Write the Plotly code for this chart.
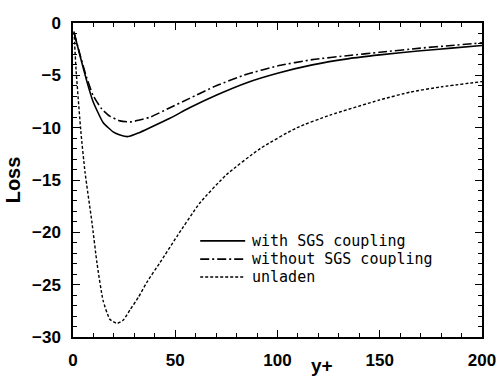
import plotly.graph_objects as go

# y+ positions and loss values
x_with = [0.5, 3.4, 6.8, 9.8, 14.7, 19.6, 23, 27, 32, 37.6, 47.4, 57, 70, 85, 100, 117, 135, 150, 170, 185, 200]
y_with = [-0.9, -3.1, -5.6, -7.5, -9.5, -10.4, -10.7, -10.85, -10.5, -10.0, -9.1, -8.1, -6.9, -5.7, -4.8, -4.0, -3.4, -3.05, -2.65, -2.4, -2.15]

x_without = [0.5, 3.4, 6.8, 9.8, 14, 18, 23, 27.9, 32, 37.6, 47.4, 57, 70, 85, 100, 117, 135, 150, 170, 185, 200]
y_without = [-0.9, -3.0, -5.3, -6.9, -8.2, -8.9, -9.35, -9.45, -9.3, -9.0, -8.1, -7.2, -6.0, -4.9, -4.1, -3.5, -3.1, -2.8, -2.4, -2.15, -1.9]

x_unladen = [0.5, 1.5, 3.9, 5.9, 9.3, 11.7, 14.7, 18, 21.5, 24.5, 27.9, 32, 36, 42.5, 50.8, 62, 75, 91.5, 109.5, 125.7, 150, 165, 180, 200]
y_unladen = [-0.8, -4.5, -10.5, -14.3, -19.1, -22.9, -26.5, -28.3, -28.7, -28.4, -27.4, -26.2, -24.8, -22.9, -20.4, -17.2, -14.5, -12.0, -10.0, -8.8, -7.35, -6.6, -6.1, -5.6]

names = ["with SGS coupling", "without SGS coupling", "unladen"]
x_ticks = [0, 50, 100, 150, 200]
y_ticks = [0, -5, -10, -15, -20, -25, -30]

BOLD = "Liberation Sans, Arial, sans-serif"
MONO = "DejaVu Sans Mono, Liberation Mono, monospace"

styles = [
    dict(color="black", width=1.6),
    dict(color="black", width=1.6, dash="9px,3px,2px,3px"),
    dict(color="black", width=1.4, dash="3px,2px"),
]

fig = go.Figure()
for xs, ys, nm, st in zip([x_with, x_without, x_unladen], [y_with, y_without, y_unladen], names, styles):
    fig.add_trace(go.Scatter(x=xs, y=ys, mode="lines", name=nm, showlegend=False,
                             line=dict(shape="spline", smoothing=0.5, **st)))

axis_common = dict(showgrid=False, zeroline=False, showline=True, linecolor="black", linewidth=1.5,
                   mirror="ticks", ticks="inside", tickcolor="black", tickwidth=1.2,
                   ticklabeloverflow="allow", automargin=False,
                   tickfont=dict(family=BOLD, size=17, color="black", weight="bold"))

fig.update_xaxes(range=[0, 200], tickvals=x_ticks, ticklen=7, ticklabelstandoff=7,
                 minor=dict(dtick=10, ticks="inside", ticklen=4, tickcolor="black", tickwidth=1.2),
                 **axis_common)
fig.update_yaxes(range=[-30, 0], tickvals=y_ticks, ticklen=7, ticklabelstandoff=7,
                 minor=dict(dtick=1, ticks="inside", ticklen=4, tickcolor="black", tickwidth=1.2),
                 title=dict(text="Loss", font=dict(family=BOLD, size=20, color="black", weight="bold"), standoff=6),
                 **axis_common)

fig.add_annotation(text="y+", xref="paper", yref="paper", x=0.609, y=-0.09, xanchor="center", yanchor="middle",
                   showarrow=False, font=dict(family=BOLD, size=19, color="black", weight="bold"))

# legend drawn as line samples and text, in paper coordinates
leg_x0, leg_x1, leg_tx = 0.311, 0.421, 0.432
leg_rows = [0.306, 0.248, 0.191]
for nm, st, ry in zip(names, styles, leg_rows):
    fig.add_shape(type="line", xref="paper", yref="paper", x0=leg_x0, x1=leg_x1, y0=ry, y1=ry,
                  line=dict(color=st["color"], width=st["width"], dash=st.get("dash", "solid")))
    fig.add_annotation(text=nm, xref="paper", yref="paper", x=leg_tx, y=ry, xanchor="left", yanchor="middle",
                       showarrow=False, font=dict(family=MONO, size=15, color="black"))

fig.update_layout(
    width=497, height=377,
    margin=dict(l=73, r=15, t=23, b=40, autoexpand=False),
    paper_bgcolor="white", plot_bgcolor="white",
    showlegend=False,
)

fig.write_html("out.html")
